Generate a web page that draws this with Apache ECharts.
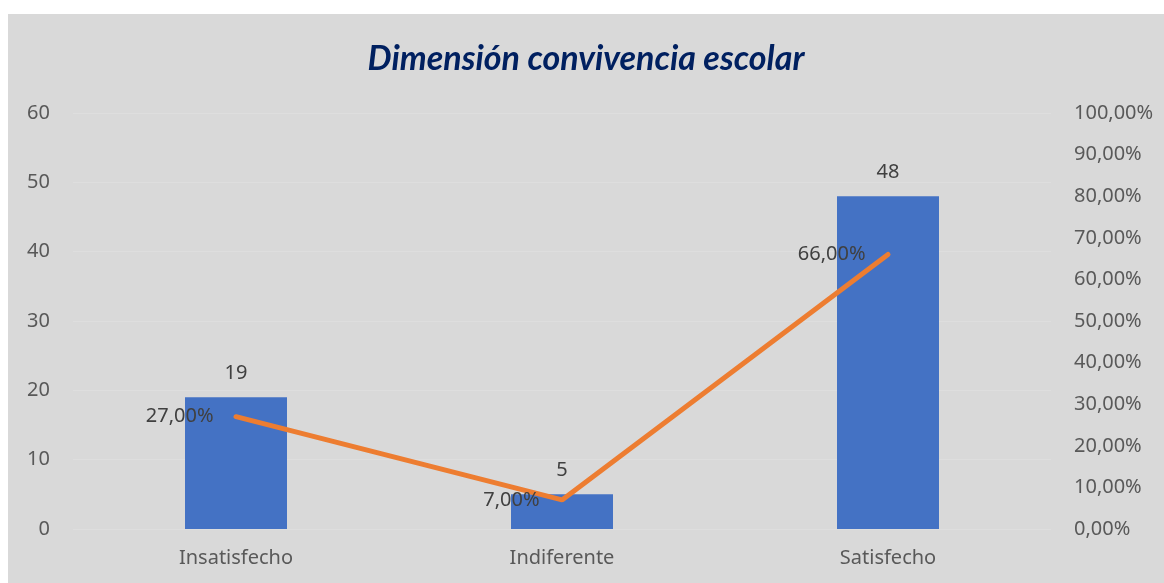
<!DOCTYPE html>
<html>
<head>
<meta charset="utf-8">
<script src="https://cdn.jsdelivr.net/npm/echarts@6/dist/echarts.min.js"></script>
<style>
  html, body { margin: 0; padding: 0; background: #fff; }
  #chart { position: absolute; left: 8px; top: 14px; width: 1156px; height: 569px; background: #d9d9d9; }
</style>
</head>
<body>
<div id="chart"></div>
<script>
const categories = ['Insatisfecho', 'Indiferente', 'Satisfecho']
const counts = [19, 5, 48]
const percents = [27, 7, 66]

const font = '"Noto Sans", sans-serif'
const chart = echarts.init(document.getElementById('chart'))

chart.setOption({
  backgroundColor: '#d9d9d9',
  textStyle: { fontFamily: font },
  title: {
    text: 'Dimensión convivencia escolar',
    left: 'center',
    top: 23,
    textStyle: { color: '#002060', fontSize: 34, fontWeight: 'bold', fontStyle: 'italic', fontFamily: 'Lato, sans-serif' },
  },
  grid: { left: 65, right: 113, top: 99, bottom: 54 },
  xAxis: {
    type: 'category',
    data: categories,
    axisLine: { show: false },
    axisTick: { show: false },
    axisLabel: { color: '#595959', fontSize: 20, margin: 19, fontFamily: font },
  },
  yAxis: [
    {
      type: 'value',
      min: 0, max: 60, interval: 10,
      axisLabel: { color: '#595959', fontSize: 20, margin: 23, fontFamily: font },
      splitLine: { lineStyle: { color: '#dedede', width: 1 } },
    },
    {
      type: 'value',
      min: 0, max: 100, interval: 10,
      axisLabel: {
        color: '#595959', fontSize: 20, margin: 23, fontFamily: font,
        formatter: v => v.toFixed(2).replace('.', ',') + '%',
      },
      splitLine: { show: false },
    },
  ],
  series: [
    {
      type: 'bar',
      data: counts,
      barWidth: 102,
      itemStyle: { color: '#4472c4' },
      label: { show: true, position: 'top', distance: 14, color: '#404040', fontSize: 20, fontFamily: font },
    },
    {
      type: 'line',
      yAxisIndex: 1,
      data: percents,
      symbol: 'circle',
      symbolSize: 1,
      lineStyle: { color: '#ed7d31', width: 5, cap: 'round' },
      itemStyle: { color: '#ed7d31' },
      label: {
        show: true, position: 'left', distance: 22, color: '#404040', fontSize: 20, fontFamily: font,
        formatter: p => p.value.toFixed(2).replace('.', ',') + '%',
      },
      z: 3,
    },
  ],
})
</script>
</body>
</html>
